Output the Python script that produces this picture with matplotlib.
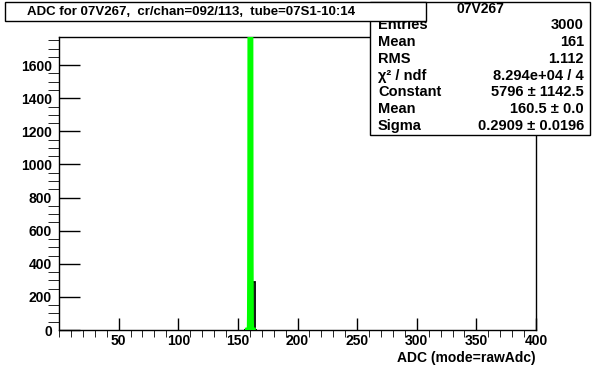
import numpy as np
import matplotlib.pyplot as plt
from matplotlib.patches import Rectangle
from matplotlib.ticker import MultipleLocator

W, H = 596, 368

# histogram (1 ADC count per bin)
bin_edges = [155, 156, 157, 158, 159, 160, 161, 162, 163, 164, 165, 166]
bin_counts = [0, 0, 0, 0, 0, 1790, 870, 0, 290, 0, 0]

# gaussian fit
fit_const = 5796
fit_mean = 160.5
fit_sigma = 0.2909

title = "ADC for 07V267,  cr/chan=092/113,  tube=07S1-10:14"
stats_name = "07V267"
stats_labels = ["Entries", "Mean", "RMS", "\u03c7\u00b2 / ndf", "Constant", "Mean", "Sigma"]
stats_values = ["3000", "161", "1.112", "8.294e+04 / 4",
                "5796 \u00b1 1142.5", "160.5 \u00b1 0.0", "0.2909 \u00b1 0.0196"]

plt.rcParams['font.family'] = ['Liberation Sans', 'DejaVu Sans']
plt.rcParams['font.weight'] = 'bold'


def fx(px):
    return px / W


def fy(py):
    return 1 - py / H


fig = plt.figure(figsize=(W / 100, H / 100), dpi=100)
ax = fig.add_axes([fx(59), fy(330), fx(536) - fx(59), fy(37) - fy(330)])

ax.stairs(bin_counts, bin_edges, color='black', lw=1.3, zorder=2)
xs = np.linspace(158, 163, 400)
ax.plot(xs, fit_const * np.exp(-0.5 * ((xs - fit_mean) / fit_sigma) ** 2),
        color='#00ff00', lw=3.5, zorder=3)

ax.set_xlim(0, 400)
ax.set_ylim(0, 1770)
ax.xaxis.set_major_locator(MultipleLocator(50))
ax.xaxis.set_minor_locator(MultipleLocator(10))
ax.yaxis.set_major_locator(MultipleLocator(200))
ax.yaxis.set_minor_locator(MultipleLocator(50))
ax.tick_params(direction='in', labelsize=10, width=1)
ax.tick_params(axis='x', which='major', length=9, pad=3)
ax.tick_params(axis='x', which='minor', length=5)
ax.tick_params(axis='y', which='major', length=15, pad=5)
ax.tick_params(axis='y', which='minor', length=8)
ax.set_xticks([50, 100, 150, 200, 250, 300, 350, 400])
for s in ax.spines.values():
    s.set_linewidth(1)

fig.text(fx(536), fy(358), "ADC (mode=rawAdc)", ha='right', va='center', fontsize=10)

# stats box
fig.patches.append(Rectangle((fx(370), fy(135)), fx(590) - fx(370), fy(2) - fy(135),
                             transform=fig.transFigure, fill=True, fc='white',
                             ec='black', lw=1, zorder=5))
fig.text(fx(480), fy(9), stats_name, ha='center', va='center', fontsize=10, zorder=6)
row_y = [25, 42, 59, 76, 92, 109, 126]
for lab, val, yy in zip(stats_labels, stats_values, row_y):
    fig.text(fx(378), fy(yy), lab, ha='left', va='center', fontsize=10.5, zorder=6)
    fig.text(fx(584), fy(yy), val, ha='right', va='center', fontsize=10.5, zorder=6)

# title box
fig.patches.append(Rectangle((fx(5), fy(21)), fx(426) - fx(5), fy(2) - fy(21),
                             transform=fig.transFigure, fill=True, fc='white',
                             ec='black', lw=1, zorder=7))
fig.text(fx(191), fy(12), title, ha='center', va='center', fontsize=9.5, zorder=8)

fig.savefig("out.png", dpi=100)
